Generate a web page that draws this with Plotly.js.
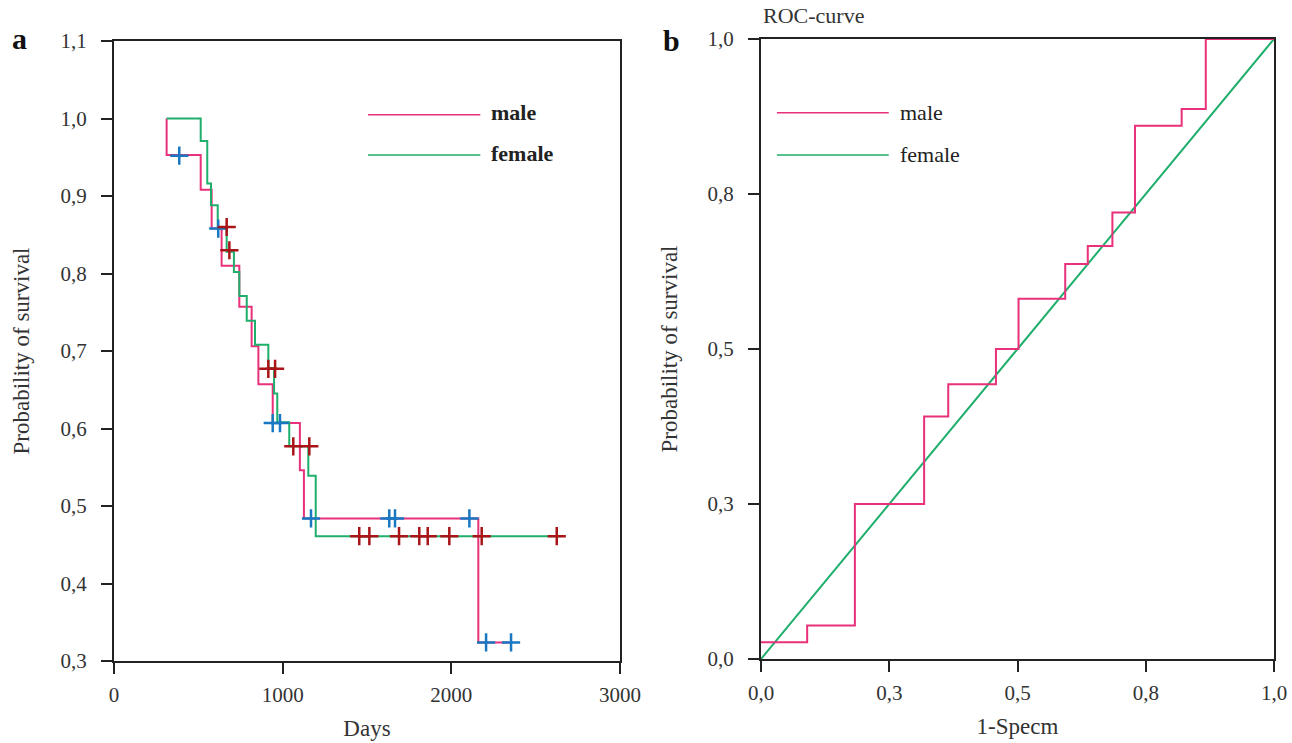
<!DOCTYPE html>
<html>
<head>
<meta charset="utf-8">
<script src="https://cdn.plot.ly/plotly-3.0.1.min.js"></script>
<style>html,body{margin:0;padding:0;background:#fff;}#chart{width:1292px;height:743px;}</style>
</head>
<body>
<div id="chart"></div>
<script>
// ---------- Panel a: Kaplan-Meier survival ----------
const maleDays = [312, 312, 514, 579, 638, 743, 816, 856, 941, 1102, 1126, 2160, 2358];
const maleSurv = [1.0, 0.953, 0.908, 0.858, 0.810, 0.757, 0.706, 0.657, 0.607, 0.546, 0.484, 0.324, 0.324];

const femaleDays = [312, 514, 553, 575, 615, 668, 711, 743, 787, 836, 915, 949, 968, 1039, 1152, 1196, 2650];
const femaleSurv = [1.0, 0.971, 0.916, 0.888, 0.858, 0.828, 0.802, 0.771, 0.739, 0.708, 0.678, 0.645, 0.608, 0.577, 0.539, 0.461, 0.461];

const maleCensDays = [387, 618, 941, 984, 1168, 1632, 1666, 2107, 2206, 2354];
const maleCensSurv = [0.952, 0.858, 0.607, 0.607, 0.484, 0.484, 0.484, 0.484, 0.324, 0.324];

const femaleCensDays = [668, 684, 915, 955, 1063, 1158, 1454, 1514, 1690, 1810, 1860, 1988, 2180, 2625];
const femaleCensSurv = [0.860, 0.830, 0.677, 0.677, 0.577, 0.577, 0.461, 0.461, 0.461, 0.461, 0.461, 0.461, 0.461, 0.461];

const daysTickVals = [0, 1000, 2000, 3000];
const daysTickText = ["0", "1000", "2000", "3000"];
const survTickVals = [0.3, 0.4, 0.5, 0.6, 0.7, 0.8, 0.9, 1.0, 1.1];
const survTickText = ["0,3", "0,4", "0,5", "0,6", "0,7", "0,8", "0,9", "1,0", "1,1"];

// ---------- Panel b: ROC curve ----------
const rocMaleX = [0, 0.090, 0.183, 0.318, 0.365, 0.458, 0.502, 0.593, 0.637, 0.685, 0.729, 0.820, 0.867, 1.0];
const rocMaleY = [0.027, 0.054, 0.25, 0.391, 0.443, 0.5, 0.581, 0.637, 0.666, 0.720, 0.860, 0.887, 1.0, 1.0];
const rocFemaleX = [0, 1];
const rocFemaleY = [0, 1];

const rocTickVals = [0, 0.25, 0.5, 0.75, 1.0];
const rocTickText = ["0,0", "0,3", "0,5", "0,8", "1,0"];

const seriesNames = ["male", "female"];

// ---------- Styling ----------
const MALE = '#e8317a';
const FEMALE = '#1fae6b';
const BLUE = '#1a78c2';
const DARKRED = '#a81418';
const AX = '#222222';
const FONT = 'Liberation Serif, DejaVu Serif, serif';

const traces = [
  {x: maleDays, y: maleSurv, type: 'scatter', mode: 'lines', line: {shape: 'hv', color: MALE, width: 2}, xaxis: 'x', yaxis: 'y', name: seriesNames[0], showlegend: false, hoverinfo: 'skip'},
  {x: femaleDays, y: femaleSurv, type: 'scatter', mode: 'lines', line: {shape: 'hv', color: FEMALE, width: 2}, xaxis: 'x', yaxis: 'y', name: seriesNames[1], showlegend: false, hoverinfo: 'skip'},
  {x: maleCensDays, y: maleCensSurv, type: 'scatter', mode: 'markers', marker: {symbol: 'cross-thin', size: 13, line: {color: BLUE, width: 2.5}}, xaxis: 'x', yaxis: 'y', showlegend: false, hoverinfo: 'skip'},
  {x: femaleCensDays, y: femaleCensSurv, type: 'scatter', mode: 'markers', marker: {symbol: 'cross-thin', size: 13, line: {color: DARKRED, width: 2.5}}, xaxis: 'x', yaxis: 'y', showlegend: false, hoverinfo: 'skip'},
  {x: rocFemaleX, y: rocFemaleY, type: 'scatter', mode: 'lines', line: {color: FEMALE, width: 2}, xaxis: 'x2', yaxis: 'y2', name: seriesNames[1], showlegend: false, hoverinfo: 'skip'},
  {x: rocMaleX, y: rocMaleY, type: 'scatter', mode: 'lines', line: {shape: 'hv', color: MALE, width: 2}, xaxis: 'x2', yaxis: 'y2', name: seriesNames[0], showlegend: false, hoverinfo: 'skip'}
];

// Plot area: margins l=114, r=18, t=39, b=82 -> 1160 x 622
const axisCommon = {
  showgrid: false, zeroline: false, showline: true, linecolor: AX, linewidth: 2,
  mirror: true, ticks: 'outside', ticklen: 11, tickwidth: 2, tickcolor: AX,
  tickfont: {family: FONT, size: 21, color: '#333'}, tickmode: 'array', fixedrange: true
};
const titleFont = {family: FONT, size: 23, color: '#333'};

const layout = {
  width: 1292, height: 743,
  margin: {l: 114, r: 18, t: 39, b: 82},
  paper_bgcolor: '#ffffff', plot_bgcolor: '#ffffff',
  font: {family: FONT, color: '#333'},
  showlegend: false,
  xaxis: Object.assign({}, axisCommon, {
    domain: [0, 0.43621], range: [0, 3000], tickvals: daysTickVals, ticktext: daysTickText,
    ticklabelstandoff: 3, anchor: 'y',
    title: {text: 'Days', font: titleFont, standoff: 14}
  }),
  yaxis: Object.assign({}, axisCommon, {
    domain: [0, 0.99678], range: [0.3, 1.1], tickvals: survTickVals, ticktext: survTickText,
    ticklabelstandoff: 10, anchor: 'x',
    title: {text: 'Probability of survival', font: titleFont, standoff: 24}
  }),
  xaxis2: Object.assign({}, axisCommon, {
    domain: [0.55776, 1.0], range: [0, 1], tickvals: rocTickVals, ticktext: rocTickText,
    ticklabelstandoff: 3, anchor: 'y2',
    title: {text: '1-Specm', font: titleFont, standoff: 14}
  }),
  yaxis2: Object.assign({}, axisCommon, {
    domain: [0.003215, 1.0], range: [0, 1], tickvals: rocTickVals, ticktext: rocTickText,
    ticklabelstandoff: 10, anchor: 'x2',
    title: {text: 'Probability of survival', font: titleFont, standoff: 24}
  }),
  shapes: [
    // legend samples panel a
    {type: 'line', xref: 'x domain', yref: 'y domain', x0: 0.502, x1: 0.724, y0: 0.881, y1: 0.881, line: {color: MALE, width: 1.5}},
    {type: 'line', xref: 'x domain', yref: 'y domain', x0: 0.502, x1: 0.724, y0: 0.816, y1: 0.816, line: {color: FEMALE, width: 1.5}},
    // legend samples panel b
    {type: 'line', xref: 'x2 domain', yref: 'y2 domain', x0: 0.031, x1: 0.249, y0: 0.881, y1: 0.881, line: {color: MALE, width: 1.5}},
    {type: 'line', xref: 'x2 domain', yref: 'y2 domain', x0: 0.031, x1: 0.249, y0: 0.813, y1: 0.813, line: {color: FEMALE, width: 1.5}}
  ],
  annotations: [
    {xref: 'x domain', yref: 'y domain', x: 0.742, y: 0.884, text: '<b>' + seriesNames[0] + '</b>', showarrow: false, xanchor: 'left', yanchor: 'middle', font: {family: FONT, size: 22, color: '#222'}},
    {xref: 'x domain', yref: 'y domain', x: 0.742, y: 0.819, text: '<b>' + seriesNames[1] + '</b>', showarrow: false, xanchor: 'left', yanchor: 'middle', font: {family: FONT, size: 22, color: '#222'}},
    {xref: 'x2 domain', yref: 'y2 domain', x: 0.268, y: 0.881, text: seriesNames[0], showarrow: false, xanchor: 'left', yanchor: 'middle', font: {family: FONT, size: 22, color: '#222'}},
    {xref: 'x2 domain', yref: 'y2 domain', x: 0.268, y: 0.813, text: seriesNames[1], showarrow: false, xanchor: 'left', yanchor: 'middle', font: {family: FONT, size: 22, color: '#222'}},
    {xref: 'paper', yref: 'paper', x: -0.0895, y: 1.0016, text: '<b>a</b>', showarrow: false, xanchor: 'left', yanchor: 'middle', font: {family: FONT, size: 30, color: '#111'}},
    {xref: 'paper', yref: 'paper', x: 0.4715, y: 0.9968, text: '<b>b</b>', showarrow: false, xanchor: 'left', yanchor: 'middle', font: {family: FONT, size: 30, color: '#111'}},
    {xref: 'x2 domain', yref: 'paper', x: 0.0, y: 1.0370, text: 'ROC-curve', showarrow: false, xanchor: 'left', yanchor: 'middle', font: {family: FONT, size: 22, color: '#333'}}
  ]
};

Plotly.newPlot('chart', traces, layout, {staticPlot: true, displayModeBar: false});
</script>
</body>
</html>
